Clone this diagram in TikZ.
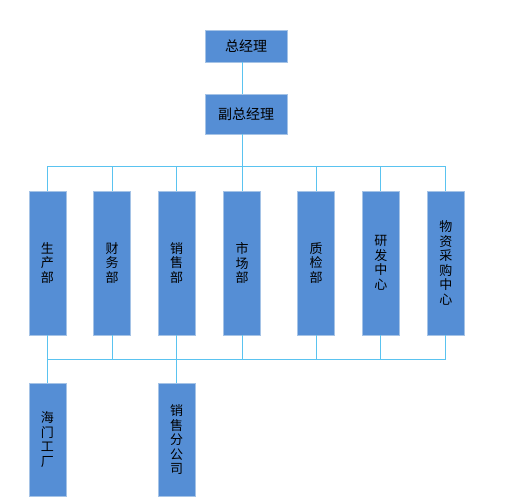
\documentclass[tikz,border=0pt]{standalone}
\usepackage{fontspec}
\setmainfont{Noto Sans CJK SC}
\definecolor{boxblue}{RGB}{85,142,213}
\definecolor{boxedge}{RGB}{165,195,230}
\definecolor{linkblue}{RGB}{90,195,240}
\begin{document}
\begin{tikzpicture}[x=1pt,y=-1pt,
  box/.style={rectangle,fill=boxblue,draw=boxedge,line width=0.6pt,inner sep=0pt,text=black},
  tall/.style={box,minimum width=37pt,minimum height=144pt,align=center,font=\fontsize{13}{14.6}\selectfont},
  low/.style={box,minimum width=37pt,minimum height=113pt,align=center,font=\fontsize{13}{14.6}\selectfont},
  wide/.style={box,minimum width=82pt,font=\fontsize{14}{16}\selectfont},
  link/.style={draw=linkblue,line width=0.9pt}]
\useasboundingbox (0,0) rectangle (515,500);
\node[wide,minimum height=32pt] (gm) at (246,46) {总经理};
\node[wide,minimum height=40pt] (vp) at (246,114) {副总经理};
\node[tall] (prod) at (47.3,263) {生\\产\\部};
\node[tall] (fin) at (112.2,263) {财\\务\\部};
\node[tall] (sales) at (176.5,263) {销\\售\\部};
\node[tall] (mkt) at (242.2,263) {市\\场\\部};
\node[tall] (qc) at (316.2,263) {质\\检\\部};
\node[tall] (rd) at (380.8,263) {研\\发\\中\\心};
\node[tall] (pur) at (445.8,263) {物\\资\\采\\购\\中\\心};
\node[low] (fac) at (47.3,439.7) {海\\门\\工\\厂};
\node[low] (br) at (176.5,439.7) {销\\售\\分\\公\\司};
\coordinate (tb) at (242.2,166);
\coordinate (bb) at (242.2,359);
\draw[link] (gm.south -| tb) -- (vp.north -| tb);
\draw[link] (vp.south -| tb) -- (tb);
\draw[link] (prod.north) -- (prod.north |- tb) -- (pur.north |- tb) -- (pur.north);
\foreach \n in {fin,sales,mkt,qc,rd} \draw[link] (\n.north) -- (\n.north |- tb);
\draw[link] (prod.south) -- (prod.south |- bb) -- (pur.south |- bb) -- (pur.south);
\foreach \n in {fin,mkt,qc,rd} \draw[link] (\n.south) -- (\n.south |- bb);
\draw[link] (prod.south) -- (fac.north);
\draw[link] (sales.south) -- (br.north);
\end{tikzpicture}
\end{document}
